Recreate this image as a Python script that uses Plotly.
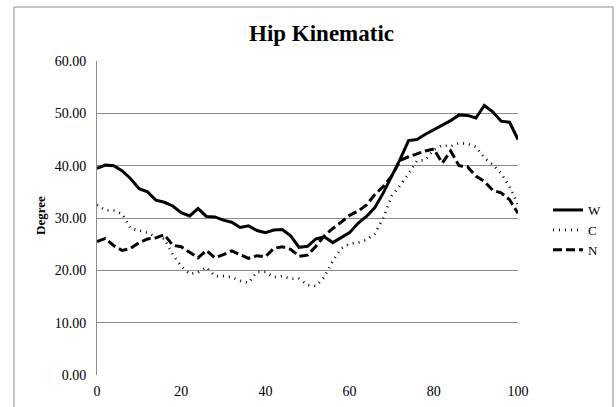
import plotly.graph_objects as go

x_vals = list(range(0, 101, 2))
w_vals = [39.5, 40.1, 40.0, 39.0, 37.5, 35.6, 35.0, 33.4, 33.0, 32.3,
          31.0, 30.4, 31.8, 30.3, 30.2, 29.6, 29.2, 28.2, 28.5, 27.6,
          27.2, 27.7, 27.8, 26.6, 24.4, 24.6, 26.0, 26.4, 25.3, 26.2,
          27.2, 29.0, 30.3, 32.0, 34.8, 38.0, 41.2, 44.8, 45.0, 46.0,
          46.9, 47.7, 48.6, 49.7, 49.6, 49.1, 51.5, 50.3, 48.5, 48.3, 45.0]
c_vals = [32.5, 31.5, 31.4, 30.8, 28.0, 27.6, 27.2, 26.4, 26.0, 23.0,
          20.8, 19.3, 19.6, 20.6, 18.9, 18.9, 18.7, 18.0, 17.6, 19.7,
          19.7, 18.7, 18.9, 18.4, 18.4, 17.2, 17.0, 18.7, 21.8, 24.2,
          25.1, 25.3, 25.8, 27.0, 30.0, 34.2, 36.2, 38.5, 40.9, 41.1,
          43.0, 43.9, 43.7, 44.3, 44.2, 43.6, 41.5, 40.2, 38.5, 36.0, 32.5]
n_vals = [25.5, 26.1, 24.7, 23.8, 24.2, 25.3, 26.0, 26.2, 26.8, 24.8,
          24.5, 23.5, 22.4, 23.8, 22.4, 23.0, 23.7, 23.0, 22.3, 22.8,
          22.6, 24.2, 24.5, 24.0, 22.7, 22.9, 24.6, 26.6, 28.0, 29.2,
          30.5, 31.3, 32.5, 34.5, 36.0, 38.0, 41.0, 41.7, 42.3, 42.8,
          43.2, 40.5, 42.8, 40.0, 39.8, 38.0, 37.0, 35.3, 34.8, 33.5, 30.9]
series_names = ["W", "C", "N"]
y_ticks = [0, 10, 20, 30, 40, 50, 60]
x_ticks = [0, 20, 40, 60, 80, 100]

FONT = "Liberation Serif"
W, H = 616, 407
ML, MR, MT, MB = 97, 98, 61, 32
PW, PH = W - ML - MR, H - MT - MB

def px2paper_x(px):
    return (px - ML) / PW

def px2paper_y(py):
    return (H - MB - py) / PH

fig = go.Figure()
fig.add_trace(go.Scatter(x=x_vals, y=w_vals, name=series_names[0], mode="lines",
                         line=dict(color="black", width=3, dash="solid")))
fig.add_trace(go.Scatter(x=x_vals, y=c_vals, name=series_names[1], mode="lines",
                         line=dict(color="black", width=2.6, dash="1px,5px")))
fig.add_trace(go.Scatter(x=x_vals, y=n_vals, name=series_names[2], mode="lines",
                         line=dict(color="black", width=3, dash="9px,4px")))

fig.update_layout(
    width=W, height=H,
    margin=dict(l=ML, r=MR, t=MT, b=MB, pad=0, autoexpand=False),
    paper_bgcolor="white", plot_bgcolor="white",
    font=dict(family=FONT, size=14, color="black"),
    showlegend=True,
    legend=dict(x=px2paper_x(548), y=px2paper_y(195), xanchor="left", yanchor="top",
                font=dict(family=FONT, size=13, color="black"),
                bgcolor="rgba(0,0,0,0)", tracegroupgap=0, itemwidth=30),
    xaxis=dict(range=[0, 100], tickvals=x_ticks, showgrid=False, zeroline=False,
               showline=False, ticks="", automargin=False, ticklabelstandoff=6,
               tickfont=dict(family=FONT, size=14)),
    yaxis=dict(range=[0, 60], tickvals=y_ticks, tickformat=".2f", showgrid=True,
               gridcolor="#8c8c8c", gridwidth=1, zeroline=False,
               showline=True, linecolor="#8c8c8c", linewidth=1, ticks="",
               automargin=False, ticklabelstandoff=7, tickfont=dict(family=FONT, size=14)),
)
fig.add_annotation(text="<b>Hip Kinematic</b>", xref="paper", yref="paper",
                   x=px2paper_x(321), y=px2paper_y(33), xanchor="center", yanchor="middle",
                   showarrow=False, font=dict(family=FONT, size=23, color="black"))
fig.add_annotation(text="<b>Degree</b>", xref="paper", yref="paper",
                   x=px2paper_x(40), y=px2paper_y(216), xanchor="center", yanchor="middle",
                   textangle=-90, showarrow=False, font=dict(family=FONT, size=13, color="black"))
# outer chart border
fig.add_shape(type="rect", xref="paper", yref="paper",
              x0=px2paper_x(14), x1=px2paper_x(613), y0=px2paper_y(420), y1=px2paper_y(7),
              line=dict(color="#8c8c8c", width=1), fillcolor="rgba(0,0,0,0)", layer="below")

fig.write_html("out.html", config={"displayModeBar": False},
               post_script="document.body.style.margin='0';document.body.style.padding='0';")
